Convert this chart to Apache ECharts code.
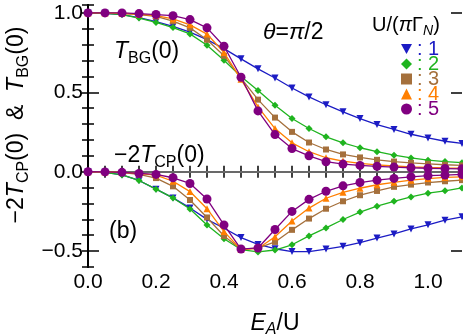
<!DOCTYPE html>
<html>
<head>
<meta charset="utf-8">
<script src="https://cdn.jsdelivr.net/npm/echarts@6/dist/echarts.min.js"></script>
<style>
  html, body { margin: 0; padding: 0; background: #fff; }
  #chart { width: 463px; height: 336px; }
</style>
</head>
<body>
<div id="chart"></div>
<script>
// E_A/U grid
const ea = [0, 0.05, 0.1, 0.15, 0.2, 0.25, 0.3, 0.35, 0.4, 0.45, 0.5, 0.55,
            0.6, 0.65, 0.7, 0.75, 0.8, 0.85, 0.9, 0.95, 1.0, 1.05, 1.1];

const uNames = ['1', '2', '3', '4', '5'];

// T_BG(0), one per U/(pi Gamma_N)
const bg1 = [1.0, 0.998, 0.99, 0.97, 0.945, 0.915, 0.879, 0.832, 0.775, 0.711, 0.648, 0.59,
             0.527, 0.471, 0.422, 0.377, 0.335, 0.297, 0.266, 0.236, 0.213, 0.192, 0.178];
const bg2 = [1.0, 0.998, 0.99, 0.968, 0.94, 0.908, 0.868, 0.797, 0.702, 0.6, 0.512, 0.418,
             0.335, 0.272, 0.22, 0.182, 0.151, 0.126, 0.104, 0.087, 0.073, 0.064, 0.057];
const bg3 = [1.0, 1.0, 0.996, 0.99, 0.979, 0.948, 0.906, 0.831, 0.73, 0.589, 0.454, 0.341,
             0.251, 0.184, 0.14, 0.109, 0.09, 0.075, 0.064, 0.056, 0.05, 0.044, 0.04];
const bg4 = [1.0, 1.0, 0.998, 0.992, 0.983, 0.962, 0.925, 0.867, 0.751, 0.582, 0.408, 0.272,
             0.182, 0.126, 0.088, 0.067, 0.052, 0.043, 0.036, 0.031, 0.027, 0.024, 0.022];
const bg5 = [1.0, 1.0, 1.0, 0.996, 0.99, 0.983, 0.958, 0.906, 0.79, 0.595, 0.383, 0.234,
             0.146, 0.1, 0.063, 0.048, 0.04, 0.034, 0.029, 0.025, 0.022, 0.02, 0.018];

// -2 T_CP(0)
const cp1 = [0, -0.004, -0.02, -0.055, -0.11, -0.165, -0.228, -0.3, -0.356, -0.415, -0.458, -0.485,
             -0.503, -0.503, -0.487, -0.47, -0.447, -0.418, -0.392, -0.36, -0.334, -0.305, -0.284];
const cp2 = [0, -0.004, -0.02, -0.055, -0.11, -0.165, -0.235, -0.335, -0.422, -0.49, -0.505, -0.493,
             -0.46, -0.404, -0.354, -0.301, -0.254, -0.217, -0.186, -0.159, -0.135, -0.12, -0.102];
const cp3 = [0, -0.001, -0.005, -0.016, -0.04, -0.092, -0.178, -0.288, -0.405, -0.488, -0.481, -0.442,
             -0.366, -0.295, -0.233, -0.186, -0.148, -0.121, -0.095, -0.081, -0.068, -0.06, -0.053];
const cp4 = [0, -0.001, -0.004, -0.012, -0.021, -0.06, -0.125, -0.233, -0.377, -0.49, -0.483, -0.41,
             -0.31, -0.229, -0.167, -0.13, -0.104, -0.082, -0.067, -0.053, -0.043, -0.036, -0.032];
const cp5 = [0, -0.001, -0.004, -0.011, -0.017, -0.038, -0.074, -0.172, -0.335, -0.487, -0.48, -0.364,
             -0.25, -0.174, -0.123, -0.089, -0.068, -0.053, -0.042, -0.032, -0.025, -0.021, -0.017];

const colors = ['#1c1cc4', '#1fb41f', '#a5703c', '#ff7f00', '#800080'];
const symbols = ['triangle', 'diamond', 'rect', 'triangle', 'circle'];
const symbolSizes = [7, 7, 6, 7, 9];
const rotates = [180, 0, 0, 0, 0];

const bgData = [bg1, bg2, bg3, bg4, bg5];
const cpData = [cp1, cp2, cp3, cp4, cp5];

const FONT = 'Liberation Sans, Arial, sans-serif';

function richSet(size, subSize) {
  const base = { fontFamily: FONT, fontSize: size, lineHeight: size + 6, color: '#000' };
  const sub = { fontFamily: FONT, fontSize: subSize, lineHeight: subSize, verticalAlign: 'bottom', color: '#000' };
  return {
    n: base,
    i: Object.assign({}, base, { fontStyle: 'italic' }),
    s: sub,
    si: Object.assign({}, sub, { fontStyle: 'italic' })
  };
}
const richBig = richSet(23, 16);
const richMid = richSet(20, 14);

function pairs(ys) {
  return ea.map((x, k) => [x, ys[k]]);
}

const series = [];
[bgData, cpData].forEach((group, g) => {
  group.forEach((ys, k) => {
    const s = {
      name: uNames[k],
      type: 'line',
      data: pairs(ys),
      symbol: symbols[k],
      symbolSize: symbolSizes[k],
      symbolRotate: rotates[k],
      showSymbol: true,
      lineStyle: { color: colors[k], width: 1.3 },
      itemStyle: { color: colors[k] },
      emphasis: { disabled: true },
      animation: false,
      z: 3 + k
    };
    if (g === 0 && k === 0) {
      s.markLine = {
        silent: true,
        symbol: ['none', 'none'],
        label: { show: false },
        lineStyle: { color: '#8c8c8c', width: 1.5, type: 'solid' },
        data: [{ yAxis: 0 }],
        animation: false
      };
    }
    series.push(s);
  });
});

const isMajorX = v => Math.abs(v / 0.2 - Math.round(v / 0.2)) < 1e-6;
const fmt = v => (v < 0 ? '\u2212' : '') + Math.abs(v).toFixed(1);

const frameLine = { show: true, lineStyle: { color: '#000', width: 2 } };

const option = {
  backgroundColor: '#fff',
  animation: false,
  grid: { left: 88, right: 1, top: 5, bottom: 69, outerBoundsMode: 'none' },
  legend: {
    orient: 'vertical',
    left: 396,
    top: 34,
    itemWidth: 11,
    itemHeight: 11,
    itemGap: -5,
    itemTextGap: 2,
    selectedMode: false,
    formatter: ': {name}',
    textStyle: { fontFamily: FONT, fontSize: 20 },
    data: uNames.map((n, k) => ({
      name: n,
      icon: k === 0 ? 'path://M0,0 L10,0 L5,9 Z' : symbols[k],
      itemStyle: { color: colors[k] },
      textStyle: { color: colors[k] }
    }))
  },
  xAxis: [
    {
      type: 'value', min: 0, max: 1.1, interval: 0.05, position: 'bottom',
      axisLine: frameLine,
      axisTick: { inside: true, length: 6, lineStyle: { color: '#000', width: 1.5 } },
      axisLabel: {
        color: '#000', fontFamily: FONT, fontSize: 21, margin: 5,
        formatter: v => (isMajorX(v) ? fmt(v) : '')
      },
      splitLine: { show: false },
      name: '{i|E}{si|A}{n|/U}',
      nameLocation: 'middle',
      nameGap: 42,
      nameTextStyle: { rich: richBig }
    },
    {
      type: 'value', min: 0, max: 1.1, interval: 0.05, position: 'top',
      axisLine: frameLine,
      axisTick: { inside: true, length: 6, lineStyle: { color: '#000', width: 1.5 } },
      axisLabel: { show: false },
      splitLine: { show: false }
    }
  ],
  yAxis: [
    {
      type: 'value', min: -0.6, max: 1.05, interval: 0.1, position: 'left',
      axisLine: frameLine,
      axisTick: { inside: true, length: 6, lineStyle: { color: '#000', width: 1.5 } },
      axisLabel: { show: false },
      splitLine: { show: false }
    },
    {
      type: 'value', min: -0.6, max: 1.05, interval: 0.1, position: 'right',
      axisLine: frameLine,
      axisTick: { inside: true, length: 6, lineStyle: { color: '#000', width: 1.5 } },
      axisLabel: { show: false },
      splitLine: { show: false }
    },
    {
      type: 'value', min: -0.6, max: 1.05, position: 'left',
      axisLine: { show: false },
      axisTick: { inside: true, length: 11, customValues: [-0.5, 0, 0.5, 1.0],
                  lineStyle: { color: '#000', width: 1.5 } },
      axisLabel: { color: '#000', fontFamily: FONT, fontSize: 21, margin: 5,
                   customValues: [-0.5, 0, 0.5, 1.0], formatter: fmt },
      splitLine: { show: false }
    },
    {
      type: 'value', min: -0.6, max: 1.05, position: 'right',
      axisLine: { show: false },
      axisTick: { inside: true, length: 11, customValues: [-0.5, 0, 0.5, 1.0],
                  lineStyle: { color: '#000', width: 1.5 } },
      axisLabel: { show: false },
      splitLine: { show: false }
    }
  ],
  graphic: [
    {
      type: 'text', x: 17, y: 125, rotation: Math.PI / 2,
      style: {
        text: '{n|\u22122}{i|T}{s|CP}{n|(0)  &  }{i|T}{s|BG}{n|(0)}',
        rich: richBig, align: 'center', verticalAlign: 'middle'
      }
    },
    {
      type: 'text', x: 114, y: 52,
      style: { text: '{i|T}{s|BG}{n|(0)}', rich: richBig, align: 'left', verticalAlign: 'middle' }
    },
    {
      type: 'text', x: 114, y: 156,
      style: { text: '{n|\u22122}{i|T}{s|CP}{n|(0)}', rich: richBig, align: 'left', verticalAlign: 'middle' }
    },
    {
      type: 'text', x: 263, y: 33,
      style: { text: '{i|\u03b8}{n|=}{i|\u03c0}{n|/2}', rich: richBig, align: 'left', verticalAlign: 'middle' }
    },
    {
      type: 'text', x: 109, y: 232,
      style: { text: '{n|(b)}', rich: richBig, align: 'left', verticalAlign: 'middle' }
    },
    {
      type: 'text', x: 372, y: 25,
      style: { text: '{n|U/(}{i|\u03c0}{n|\u0393}{si|N}{n|)}', rich: richMid, align: 'left', verticalAlign: 'middle' }
    }
  ],
  series: series
};

const chart = echarts.init(document.getElementById('chart'));
chart.setOption(option);
</script>
</body>
</html>
